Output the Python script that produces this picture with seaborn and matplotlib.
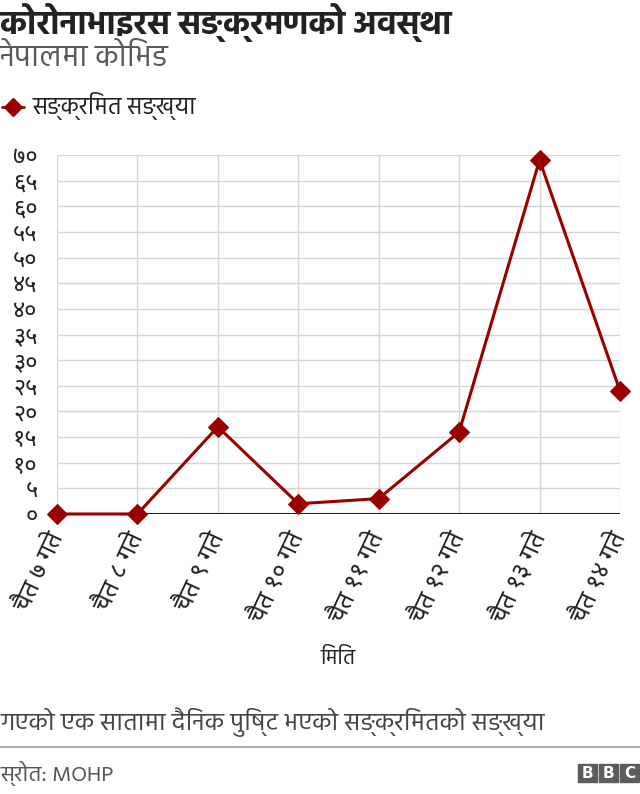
import numpy as np
import pandas as pd
import matplotlib
matplotlib.use("Agg")
import matplotlib.pyplot as plt
from matplotlib import font_manager
from matplotlib.patches import Rectangle
import seaborn as sns

# data
dates = ["चैत ७ गते", "चैत ८ गते", "चैत ९ गते", "चैत १० गते",
         "चैत ११ गते", "चैत १२ गते", "चैत १३ गते", "चैत १४ गते"]
cases = [0, 0, 17, 2, 3, 16, 69, 24]
yticks = list(range(0, 75, 5))
ytick_labels = ["०", "५", "१०", "१५", "२०", "२५", "३०", "३५",
                "४०", "४५", "५०", "५५", "६०", "६५", "७०"]

title = "कोरोनाभाइरस सङ्क्रमणको अवस्था"
subtitle = "नेपालमा कोभिड"
legend_label = "सङ्क्रमित सङ्ख्या"
xlabel = "मिति"
note = "गएको एक सातामा दैनिक पुष्टि भएको सङ्क्रमितको सङ्ख्या"
source = "स्रोत: MOHP"

# pick installed Devanagari families
fonts = {(f.name, f.weight) for f in font_manager.fontManager.ttflist}
names = {n for n, w in fonts}
deva = "FreeSans"
for cand in ["Hind", "Mukta", "Poppins", "Noto Sans Devanagari", "FreeSans"]:
    if (cand, 700) in fonts or (cand, "bold") in fonts:
        deva = cand
        break
# digits need a font with real Devanagari numerals
digits_font = "Noto Sans Devanagari" if "Noto Sans Devanagari" in names else deva


def vis(s):
    # matplotlib does no shaping: put the short i sign before its consonant
    chars = list(s)
    i = 0
    while i < len(chars):
        if chars[i] == "\u093f" and i > 0:
            j = i - 1
            while j >= 2 and chars[j - 1] == "\u094d":
                j -= 2
            chars.pop(i)
            chars.insert(j, "\u093f")
        i += 1
    return "".join(chars)


sns.set_style("white")
plt.rcParams["font.family"] = [deva, "DejaVu Sans"]

df = pd.DataFrame({"pos": np.arange(len(dates)), "cases": cases})

fig = plt.figure(figsize=(6.4, 7.94), dpi=100)
ax = fig.add_axes([57 / 640, 1 - 514 / 794, (620 - 57) / 640, (514 - 155) / 794])

red = "#990000"
sns.lineplot(data=df, x="pos", y="cases", ax=ax, color=red, linewidth=2.2,
             marker="D", markersize=10, markeredgecolor=red, clip_on=False,
             zorder=5)

ax.set_xlim(0, len(dates) - 1)
ax.set_ylim(0, 70)
ax.set_yticks(yticks)
ax.set_yticklabels(ytick_labels, fontsize=17, color="#222222",
                   family=[digits_font, "DejaVu Sans"])
ax.set_xticks(df["pos"])
ax.set_xticklabels([vis(d) for d in dates], rotation=65, ha="right",
                   va="center", rotation_mode="anchor", fontsize=18,
                   color="#222222", family=[digits_font, "DejaVu Sans"])
ax.tick_params(axis="y", length=0, pad=14)
ax.tick_params(axis="x", length=0, pad=14)
ax.grid(True, color="#d6d6d6", linewidth=1)
for s in ["top", "right", "left", "bottom"]:
    ax.spines[s].set_visible(False)
ax.axhline(0, color="#222222", linewidth=2.2, zorder=4)
ax.set_xlabel(vis(xlabel), fontsize=15, color="#222222")
ax.xaxis.set_label_coords(0.5, (514 - 648) / 359)
ax.set_ylabel("")

# titles and legend
fig.text(0.0, 1 - 22 / 794, vis(title), fontsize=24, fontweight="bold",
         color="#222222", va="center", ha="left")
fig.text(0.0, 1 - 58 / 794, vis(subtitle), fontsize=22, color="#5a5a5a",
         va="center", ha="left")
fig.lines.append(plt.Line2D([2 / 640, 13 / 640, 24 / 640], [1 - 107 / 794] * 3,
                            color=red, linewidth=2, marker="D", markersize=9,
                            markevery=[1], transform=fig.transFigure))
fig.text(32 / 640, 1 - 106 / 794, vis(legend_label), fontsize=17,
         color="#222222", va="center", ha="left")

# footer
fig.text(0.0, 1 - 722 / 794, vis(note), fontsize=18, color="#444444",
         va="center", ha="left")
fig.lines.append(plt.Line2D([0, 1], [1 - 747 / 794] * 2, color="#999999",
                            linewidth=1.2, transform=fig.transFigure))
fig.text(0.0, 1 - 773 / 794, vis(source), fontsize=16, color="#555555",
         va="center", ha="left")
for i, letter in enumerate("BBC"):
    x0 = (578 + i * 21) / 640
    fig.patches.append(Rectangle((x0, 1 - 782 / 794), 19 / 640, 18 / 794,
                                 color="#5c5c5c", transform=fig.transFigure))
    fig.text(x0 + 9.5 / 640, 1 - 773 / 794, letter, fontsize=11,
             fontweight="bold", color="white", ha="center", va="center",
             family="DejaVu Sans")

fig.savefig("out.png", dpi=100)
